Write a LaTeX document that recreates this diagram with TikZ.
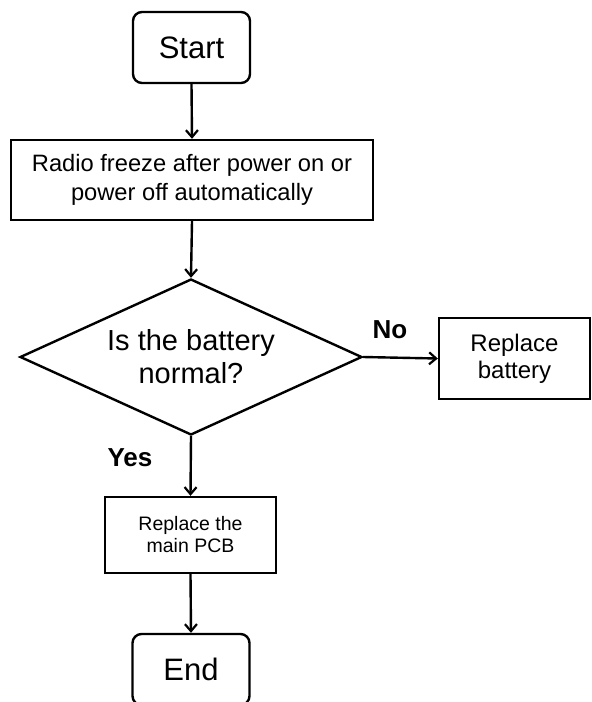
\documentclass[tikz,border=0pt]{standalone}
\usepackage{fontspec}
\setmainfont{Liberation Sans}
\usetikzlibrary{shapes.geometric,arrows.meta}
\tikzset{
  base/.style={draw=black, line width=2.4pt, inner sep=0pt, align=center, text=black},
  term/.style={base, rounded corners=9pt, minimum width=117pt, minimum height=71pt, font=\fontsize{31}{36}\selectfont},
  proc/.style={base, rectangle},
  deci/.style={base, diamond, shape aspect=2.19, minimum width=342pt, minimum height=156pt, font=\fontsize{29}{33}\selectfont},
  lbl/.style={inner sep=0pt, font=\bfseries\fontsize{26}{30}\selectfont},
  conn/.style={draw=black, line width=2.4pt, -{Straight Barb[length=7pt,width=12pt,line width=2.2pt]}}
}
\begin{document}
\begin{tikzpicture}[x=1pt,y=-1pt]
\useasboundingbox (0,0) rectangle (592,702);
\node[term] (start) at (191.5,47.5) {Start};
\node[proc, minimum width=362pt, minimum height=80pt, font=\fontsize{23.7}{29}\selectfont] (radio) at (192,180) {Radio freeze after power on or\\power off automatically};
\node[deci] (dia) at (191,357) {Is the battery\\normal?};
\node[proc, minimum width=151pt, minimum height=81pt, font=\fontsize{24}{27}\selectfont] (bat) at (514.5,358.5) {Replace\\battery};
\node[proc, minimum width=171pt, minimum height=76pt, font=\fontsize{19.5}{22}\selectfont] (pcb) at (190.5,535) {Replace the\\main PCB};
\node[term] (end) at (191,669.5) {End};
\node[lbl] (no) at (390,330) {No};
\node[lbl] (yes) at (130,458) {Yes};
\draw[conn] (start.south) -- (radio.north);
\draw[conn] (radio.south) -- (dia.north);
\draw[conn] (dia.east) -- (bat.west);
\draw[conn] (dia.south) -- (pcb.north);
\draw[conn] (pcb.south) -- (end.north);
\end{tikzpicture}
\end{document}
